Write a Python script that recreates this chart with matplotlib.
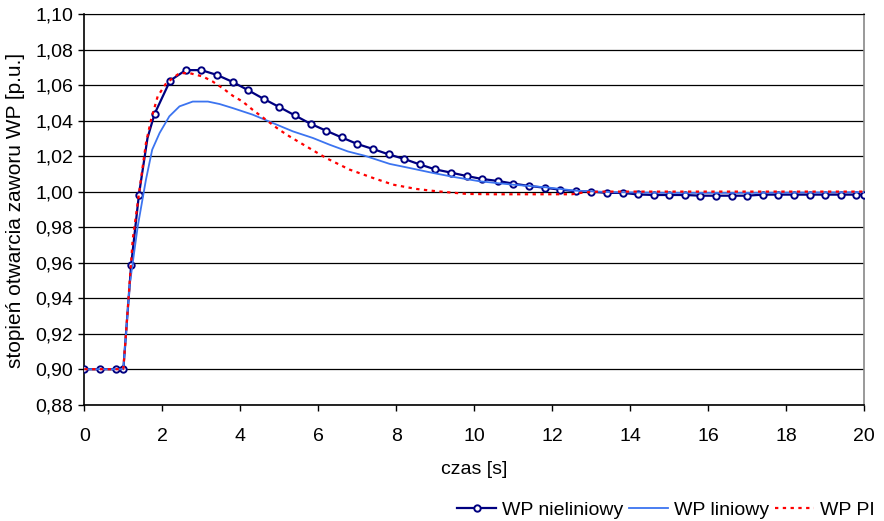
import matplotlib
matplotlib.use("Agg")
import matplotlib.pyplot as plt
from matplotlib.ticker import MultipleLocator, FuncFormatter

plt.rcParams['font.family'] = ['Liberation Sans', 'DejaVu Sans']
plt.rcParams['font.size'] = 14

# WP nieliniowy
t_nl = [0.0, 0.4, 0.8, 1.0, 1.2, 1.4, 1.62, 1.8, 2.2, 2.6, 3.0, 3.4, 3.8, 4.2, 4.6,
        5.0, 5.4, 5.8, 6.2, 6.6, 7.0, 7.4, 7.8, 8.2, 8.6, 9.0, 9.4, 9.8, 10.2, 10.6,
        11.0, 11.4, 11.8, 12.2, 12.6, 13.0, 13.4, 13.8, 14.2, 14.6, 15.0, 15.4, 15.8,
        16.2, 16.6, 17.0, 17.4, 17.8, 18.2, 18.6, 19.0, 19.4, 19.8, 20.0]
y_nl = [0.900, 0.900, 0.900, 0.900, 0.9586, 0.9983, 1.0302, 1.0437, 1.0625, 1.0684,
        1.0684, 1.0657, 1.0618, 1.0571, 1.0522, 1.0476, 1.0429, 1.0382, 1.0343, 1.0305,
        1.0268, 1.0240, 1.0210, 1.0184, 1.0153, 1.0125, 1.0107, 1.0088, 1.0071, 1.0060,
        1.0045, 1.0032, 1.0022, 1.0011, 1.0002, 1.0000, 0.9993, 0.9993, 0.9984, 0.9981,
        0.9981, 0.9981, 0.9977, 0.9977, 0.9977, 0.9977, 0.9983, 0.9983, 0.9983, 0.9983,
        0.9983, 0.9983, 0.9983, 0.9983]
nl_marked = [i for i, t in enumerate(t_nl) if t != 1.62]

# WP liniowy
t_lin = [0.0, 1.0, 1.16, 1.37, 1.58, 1.74, 1.93, 2.18, 2.44, 2.78, 3.17, 3.47, 3.81,
         4.32, 5.0, 5.35, 5.86, 6.29, 6.76, 7.19, 7.83, 8.34, 8.94, 9.46, 10.14, 10.99,
         11.85, 12.6, 13.5, 15.0, 17.0, 20.0]
y_lin = [0.900, 0.900, 0.947, 0.9805, 1.0067, 1.0236, 1.033, 1.0424, 1.048, 1.0507,
         1.0507, 1.0493, 1.047, 1.0433, 1.0371, 1.0339, 1.0302, 1.0264, 1.0226, 1.0202,
         1.0156, 1.0133, 1.0105, 1.0083, 1.0058, 1.0039, 1.0024, 1.0005, 0.9997, 0.9993,
         0.9993, 0.9997]

# WP PI
t_pi = [0.0, 1.0, 1.07, 1.24, 1.45, 1.58, 1.71, 1.88, 2.1, 2.44, 2.7, 3.04, 3.29, 3.55,
        3.81, 4.06, 4.32, 4.66, 5.0, 5.26, 5.69, 6.2, 6.8, 7.4, 7.92, 8.51, 9.03, 9.8,
        10.5, 12.5, 12.8, 13.2, 20.0]
y_pi = [0.900, 0.900, 0.9206, 0.973, 1.0067, 1.0273, 1.0404, 1.0536, 1.0611, 1.0667,
        1.0667, 1.0648, 1.062, 1.0582, 1.0539, 1.0507, 1.046, 1.0404, 1.0348, 1.0311,
        1.0255, 1.0189, 1.0124, 1.0077, 1.0039, 1.0015, 1.0002, 0.9987, 0.9985, 0.9985,
        0.9995, 1.0, 1.0]

fig = plt.figure(figsize=(8.84, 5.21), dpi=100)
ax = fig.add_axes([0.0954, 0.2232, 0.8823, 0.7499])

ax.plot(t_nl, y_nl, color='#000080', lw=1.6, marker='o', ms=4.6, mew=1.4,
        mfc='white', mec='#000080', markevery=nl_marked, label='WP nieliniowy', zorder=3)
ax.plot(t_lin, y_lin, color='#3C74F0', lw=1.3, label='WP liniowy', zorder=4)
ax.plot(t_pi, y_pi, color='#FF0000', lw=1.6, ls=(0, (1.5, 2.0)), label='WP PI', zorder=5)

ax.set_xlim(0, 20)
ax.set_ylim(0.88, 1.10)
ax.xaxis.set_major_locator(MultipleLocator(2))
ax.yaxis.set_major_locator(MultipleLocator(0.02))
ax.yaxis.set_major_formatter(FuncFormatter(lambda v, p: f"{v:.2f}".replace('.', ',')))
ax.grid(axis='y', color='black', lw=0.9)
ax.set_axisbelow(True)
ax.tick_params(direction='out', length=4, width=1, colors='black', labelsize=14)
ax.tick_params(axis='y', pad=4)
ax.tick_params(axis='x', pad=13)
for side in ('left', 'bottom'):
    ax.spines[side].set_color('black')
    ax.spines[side].set_linewidth(1.2)
ax.spines['top'].set_color('black')
ax.spines['right'].set_color('#888888')
ax.spines['right'].set_linewidth(1.2)

ax.set_xlabel('czas [s]', fontsize=14)
ax.xaxis.set_label_coords(0.5, (405 - 461) / 391)
ax.set_ylabel('stopień otwarcia zaworu WP [p.u.]', fontsize=15)
ax.yaxis.set_label_coords((25 - 84) / 780, (405 - 211) / 391)

fig.legend(loc='center right', bbox_to_anchor=(1.0, 1 - 510 / 521), ncol=3,
           frameon=False, fontsize=14, handlelength=2.0, handletextpad=0.3,
           columnspacing=0.3, borderaxespad=0.1)

fig.savefig('out.png', dpi=100)
